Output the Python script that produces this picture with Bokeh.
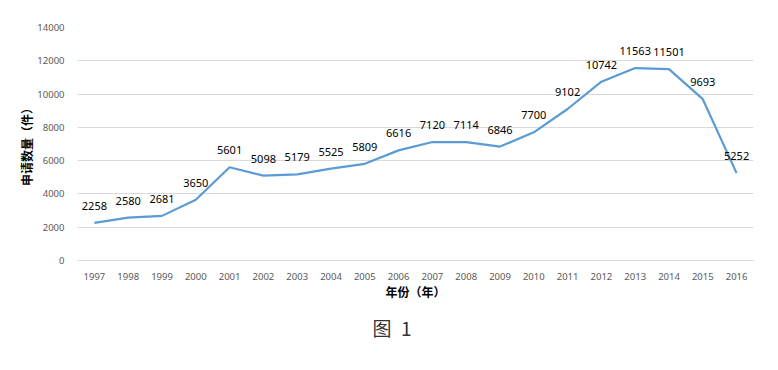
from bokeh.plotting import figure
from bokeh.models import ColumnDataSource, Range1d, FactorRange, Title, FixedTicker
from bokeh.core.properties import value
from bokeh.embed import file_html
from bokeh.resources import INLINE

years = ["1997", "1998", "1999", "2000", "2001", "2002", "2003", "2004", "2005", "2006",
         "2007", "2008", "2009", "2010", "2011", "2012", "2013", "2014", "2015", "2016"]
counts = [2258, 2580, 2681, 3650, 5601, 5098, 5179, 5525, 5809, 6616,
          7120, 7114, 6846, 7700, 9102, 10742, 11563, 11501, 9693, 5252]
y_ticks = [0, 2000, 4000, 6000, 8000, 10000, 12000, 14000]

src = ColumnDataSource(dict(x=years, y=counts, lab=[str(c) for c in counts]))

p = figure(width=762, height=354, output_backend="svg", toolbar_location=None,
           x_range=FactorRange(factors=years), y_range=Range1d(0, 14000),
           min_border_left=77, min_border_right=9, min_border_top=27, min_border_bottom=94)
p.outline_line_color = None
p.background_fill_color = "white"

p.line("x", "y", source=src, line_color="#5b9bd5", line_width=2.2)
p.text("x", "y", text="lab", source=src, text_align="center", text_baseline="middle",
       y_offset=-17, text_font_size="11px", text_color="#000000",
       text_font=value("Noto Sans"))

p.yaxis.ticker = FixedTicker(ticks=y_ticks)
p.yaxis.axis_line_color = None
p.yaxis.major_tick_line_color = None
p.yaxis.minor_tick_line_color = None
p.yaxis.major_label_text_color = "#595959"
p.yaxis.major_label_text_font_size = "9.5px"
p.yaxis.major_label_text_font = "Noto Sans"
p.yaxis.major_label_standoff = 7
p.yaxis.axis_label = "申请数量（件）"
p.yaxis.axis_label_text_font = "Noto Sans CJK SC"
p.yaxis.axis_label_text_font_size = "12px"
p.yaxis.axis_label_text_font_style = "bold"
p.yaxis.axis_label_text_color = "#000000"
p.yaxis.axis_label_standoff = -1

p.xaxis.axis_line_color = "#d9d9d9"
p.xaxis.major_tick_line_color = None
p.xaxis.minor_tick_line_color = None
p.xaxis.major_label_text_color = "#595959"
p.xaxis.major_label_text_font_size = "9.5px"
p.xaxis.major_label_text_font = "Noto Sans"
p.xaxis.major_label_standoff = 6
p.xaxis.axis_label = "年份（年）"
p.xaxis.axis_label_text_font = "Noto Sans CJK SC"
p.xaxis.axis_label_text_font_size = "12px"
p.xaxis.axis_label_text_font_style = "bold"
p.xaxis.axis_label_text_color = "#000000"
p.xaxis.axis_label_standoff = 0

p.xgrid.grid_line_color = None
p.ygrid.grid_line_color = "#d9d9d9"
p.ygrid.grid_line_width = 1

t = Title(text="图\u20021", align="left", offset=295, text_font="Noto Sans CJK SC",
          text_font_size="19px", text_font_style="normal", text_color="#333333",
          standoff=22, text_line_height=0.5, vertical_align="top")
p.add_layout(t, "below")

open("out.html", "w").write(file_html(p, INLINE))
